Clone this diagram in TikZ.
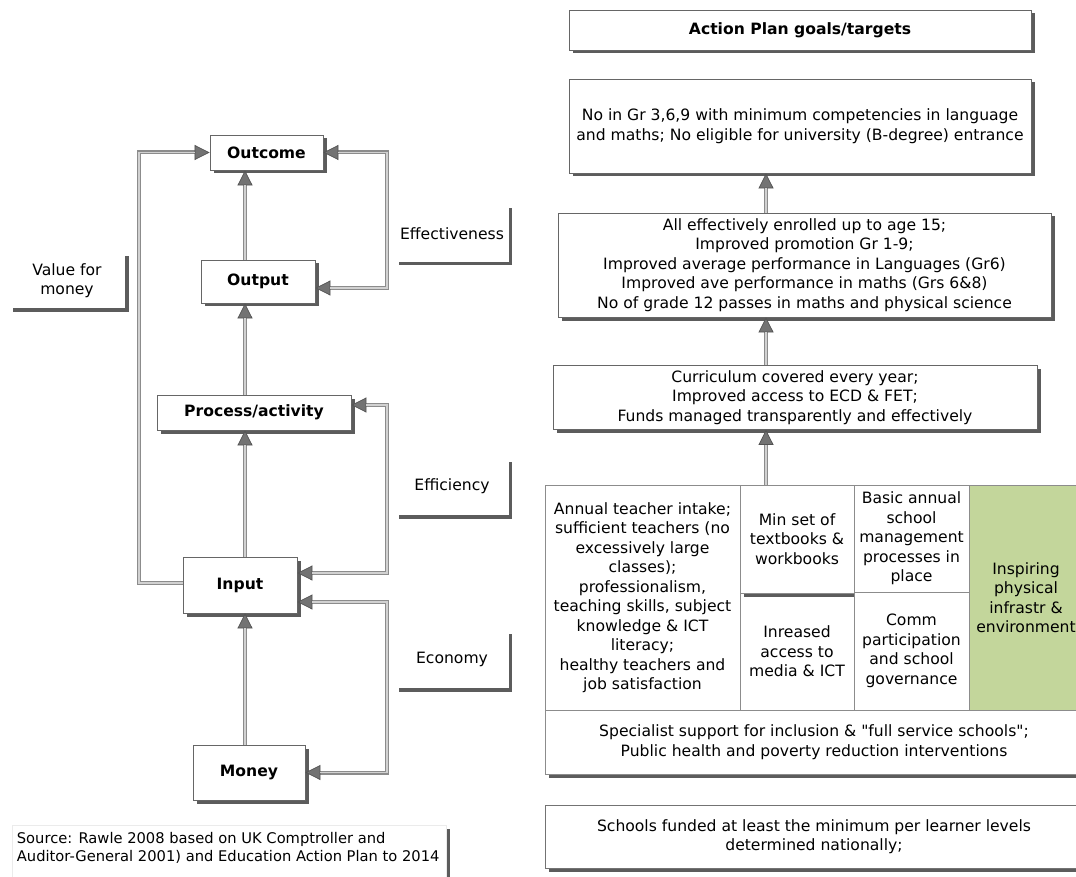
\documentclass[tikz,border=0pt]{standalone}
\usepackage{fontspec}
\setmainfont{DejaVu Sans}
\usetikzlibrary{arrows.meta,shadows}
\definecolor{grn}{HTML}{C3D69B}
\newcommand{\sqt}{\XeTeXglyph\XeTeXcharglyph"22\relax}
\tikzset{
  base/.style={font=\fontsize{15.6}{19.5}\selectfont, align=center, inner sep=0pt},
  shad/.style={drop shadow={shadow xshift=3.5pt, shadow yshift=-3.5pt, fill=black!85, opacity=0.75}},
  box/.style={base, draw=black!60, line width=0.8pt, fill=white, shad},
  bbox/.style={box, font=\fontsize{15.6}{19.5}\selectfont\bfseries},
  lbl/.style={base, fill=white, shad},
  cell/.style={base, draw=black!45, line width=0.8pt, fill=white},
  conn/.style={draw=black!45, line width=4pt,
    -{Triangle[length=15pt, width=15pt, line width=0.7pt, color=black!68, fill=black!55]},
    postaction={draw=black!18, line width=1.3pt, -, shorten >=15pt}},
  conn2/.style={draw=black!45, line width=4pt,
    {Triangle[length=15pt, width=15pt, line width=0.7pt, color=black!68, fill=black!55]}-{Triangle[length=15pt, width=15pt, line width=0.7pt, color=black!68, fill=black!55]},
    postaction={draw=black!18, line width=1.3pt, -, shorten >=15pt, shorten <=15pt}}
}
\begin{document}
\begin{tikzpicture}[x=1pt,y=-1pt]
\useasboundingbox (0,0) rectangle (1076,877);
\fill[white] (0,0) rectangle (1076,877);

\coordinate (vx) at (245,0);
\coordinate (lx) at (139,0);
\coordinate (rx) at (387,0);
\coordinate (rvx) at (766,0);

% ---------- left side ----------
\node[bbox, minimum width=113pt, minimum height=35pt] (Outcome) at (266.5,152.5) {Outcome};
\node[bbox, minimum width=114pt, minimum height=43pt] (Output) at (258,281.5) {Output};
\node[bbox, minimum width=194pt, minimum height=35pt] (Process) at (254,412.5) {Process/activity};
\node[bbox, minimum width=114pt, minimum height=56pt] (Input) at (240,585) {Input};
\node[bbox, minimum width=112pt, minimum height=55pt] (Money) at (249,772.5) {Money};

\node[lbl, minimum width=116pt, minimum height=55pt] (VfM) at (67,280.5) {Value for\\money};
\node[lbl, minimum width=113pt, minimum height=57pt] (Eff) at (452,233.5) {Effectiveness};
\node[lbl, minimum width=113pt, minimum height=57pt] (Effi) at (452,486.5) {Efficiency};
\node[lbl, minimum width=113pt, minimum height=58pt] (Econ) at (452,659) {Economy};

\draw[conn] (Output.north -| vx) -- (Outcome.south -| vx);
\draw[conn] (Process.north -| vx) -- (Output.south -| vx);
\draw[conn] (Input.north -| vx) -- (Process.south -| vx);
\draw[conn] (Money.north -| vx) -- (Input.south -| vx);

\draw[conn] ([yshift=2pt]Input.west) -- ([yshift=2pt]Input.west -| lx) -- (Outcome.west -| lx) -- (Outcome.west);
\draw[conn2] (Outcome.east) -- (Outcome.east -| rx) -- ([yshift=-6.5pt]Output.east -| rx) -- ([yshift=-6.5pt]Output.east);
\draw[conn2] ([yshift=7.5pt]Process.east) -- ([yshift=7.5pt]Process.east -| rx) -- ([yshift=12pt]Input.east -| rx) -- ([yshift=12pt]Input.east);
\draw[conn2] ([yshift=-17pt]Input.east) -- ([yshift=-17pt]Input.east -| rx) -- (Money.east -| rx) -- (Money.east);

\node[fill=white, draw=black!8, line width=0.6pt, minimum width=434pt, minimum height=62pt, inner sep=0pt, shad] (Src) at (229,856) {};
\node[base, font=\fontsize{14.7}{18}\selectfont, align=left, anchor=north west] (SrcText) at ([xshift=5pt,yshift=-7pt]Src.north west)
  {Source: Rawle 2008 based on UK Comptroller and\\Auditor-General 2001) and Education Action Plan to 2014};

% ---------- right side ----------
\node[bbox, minimum width=462pt, minimum height=40pt] (Title) at (800,30) {Action Plan goals/targets};
\node[box, minimum width=462pt, minimum height=94pt] (Goals) at (800,126)
  {No in Gr 3,6,9 with minimum competencies in language\\and maths; No eligible for university (B-degree) entrance};
\node[box, minimum width=493pt, minimum height=104pt] (Box3) at (804.5,265)
  {All effectively enrolled up to age 15;\\Improved promotion Gr 1-9;\\Improved average performance in Languages (Gr6)\\Improved ave performance in maths (Grs 6\&8)\\No of grade 12 passes in maths and physical science};
\node[box, minimum width=484pt, minimum height=64pt] (Box4) at (795,397.5)
  {Curriculum covered every year;\\Improved access to ECD \& FET;\\Funds managed transparently and effectively};

\node[cell, minimum width=195pt, minimum height=225pt] (C1) at (642.5,597.5)
  {Annual teacher intake;\\sufficient teachers (no\\excessively large\\classes);\\professionalism,\\teaching skills, subject\\knowledge \& ICT\\literacy;\\healthy teachers and\\job satisfaction};
\node[cell, minimum width=114pt, minimum height=117pt] (C2b) at (797,651.5)
  {Inreased\\access to\\media \& ICT};
\node[cell, minimum width=114pt, minimum height=108pt, shad] (C2a) at (797,539)
  {Min set of\\textbooks \&\\workbooks};
\node[cell, minimum width=115pt, minimum height=107pt] (C3a) at (911.5,538.5)
  {Basic annual\\school\\management\\processes in\\place};
\node[cell, minimum width=115pt, minimum height=118pt] (C3b) at (911.5,651)
  {Comm\\participation\\and school\\governance};
\node[cell, fill=grn, minimum width=114pt, minimum height=225pt] (Green) at (1026,597.5)
  {Inspiring\\physical\\infrastr \&\\environment};
\node[cell, minimum width=538pt, minimum height=64pt, shad] (Spec) at (814,742)
  {Specialist support for inclusion \& \sqt full service schools\sqt;\\Public health and poverty reduction interventions};
\node[cell, draw=black!55, minimum width=538pt, minimum height=63pt, shad] (Schools) at (814,836.5)
  {Schools funded at least the minimum per learner levels\\determined nationally;};

\draw[conn] (Box3.north -| rvx) -- (Goals.south -| rvx);
\draw[conn] (Box4.north -| rvx) -- (Box3.south -| rvx);
\draw[conn] (C2a.north -| rvx) -- (Box4.south -| rvx);
\end{tikzpicture}
\end{document}
